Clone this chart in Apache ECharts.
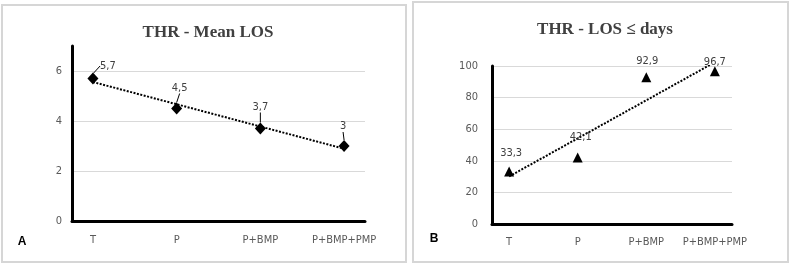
<!DOCTYPE html>
<html>
<head>
<meta charset="utf-8">
<script src="https://cdn.jsdelivr.net/npm/echarts@6/dist/echarts.min.js"></script>
<style>
html,body{margin:0;padding:0;background:#fff;}
#c{width:790px;height:266px;}
</style>
</head>
<body>
<div id="c"></div>
<script>
// ---- data ----
const categories = ['T', 'P', 'P+BMP', 'P+BMP+PMP'];
const meanLOS = [5.7, 4.5, 3.7, 3];
const losDays = [33.3, 42.1, 92.9, 96.7];
// dotted linear trend lines (values read at T and at P+BMP+PMP)
const trendMeanLOS = [5.56, 2.89];
const trendLOSdays = [30.1, 102.4];
const yTicksA = [0, 2, 4, 6];
const yTicksB = [0, 20, 40, 60, 80, 100];

// label offsets (style only)
const offA = [[15, 4], [3, -4], [0, -5], [-1, -3]];
const offB = [[2, -3], [3, -5], [1, -1], [0, 6]];

const chart = echarts.init(document.getElementById('c'), null, {renderer: 'canvas'});
const axisFont = '"Liberation Sans Narrow", "DejaVu Sans Condensed", "Liberation Sans", sans-serif';
const fmt = v => String(v).replace('.', ',');

function xAxisCfg(gridIndex, margin) {
  return {
    type: 'value', gridIndex, min: -0.25, max: 3.25,
    axisLine: {show: true, onZero: false, lineStyle: {color: '#000', width: 3}},
    axisTick: {show: false},
    splitLine: {show: false},
    axisLabel: {
      customValues: [0, 1, 2, 3],
      formatter: v => categories[Math.round(v)],
      color: '#595959', fontSize: 11, fontFamily: axisFont, margin: margin
    }
  };
}

const option = {
  animation: false,
  backgroundColor: '#fff',
  title: [
    {text: 'THR - Mean LOS', left: 203, top: 19, textAlign: 'center',
     textStyle: {fontFamily: '"Liberation Serif", "DejaVu Serif", serif', fontWeight: 'bold', fontSize: 17, color: '#404040'}},
    {text: 'THR - LOS \u2264 days', left: 600, top: 16, textAlign: 'center',
     textStyle: {fontFamily: '"Liberation Serif", "DejaVu Serif", serif', fontWeight: 'bold', fontSize: 17, color: '#404040'}}
  ],
  graphic: [
    {type: 'rect', shape: {x: 2, y: 5, width: 404, height: 257}, style: {fill: 'none', stroke: '#d6d6d6', lineWidth: 2}, silent: true},
    {type: 'rect', shape: {x: 413, y: 2, width: 375, height: 260}, style: {fill: 'none', stroke: '#d6d6d6', lineWidth: 2}, silent: true},
    {type: 'text', x: 22, y: 242, style: {text: 'A', fontFamily: '"Liberation Sans", sans-serif', fontWeight: 'bold', fontSize: 12, fill: '#000', align: 'center', verticalAlign: 'middle'}},
    {type: 'text', x: 434, y: 239, style: {text: 'B', fontFamily: '"Liberation Sans", sans-serif', fontWeight: 'bold', fontSize: 12, fill: '#000', align: 'center', verticalAlign: 'middle'}}
  ],
  grid: [
    {left: 72, top: 46, right: 425, bottom: 45},
    {left: 492, top: 66, right: 58, bottom: 42}
  ],
  xAxis: [xAxisCfg(0, 14), xAxisCfg(1, 13)],
  yAxis: [
    {type: 'value', gridIndex: 0, min: 0, max: 7, interval: 2,
     axisLine: {show: true, onZero: false, lineStyle: {color: '#000', width: 3}},
     axisTick: {show: false},
     splitLine: {show: true, showMinLine: false, showMaxLine: false, lineStyle: {color: '#d9d9d9', width: 1}},
     axisLabel: {showMaxLabel: false, color: '#595959', fontSize: 11, fontFamily: axisFont, margin: 10,
                 formatter: v => (yTicksA.indexOf(v) >= 0 ? String(v) : '')}},
    {type: 'value', gridIndex: 1, min: 0, max: 100, interval: 20,
     axisLine: {show: true, onZero: false, lineStyle: {color: '#000', width: 3}},
     axisTick: {show: false},
     splitLine: {show: true, showMinLine: false, lineStyle: {color: '#d9d9d9', width: 1}},
     axisLabel: {color: '#595959', fontSize: 11, fontFamily: axisFont, margin: 14,
                 formatter: v => (yTicksB.indexOf(v) >= 0 ? String(v) : '')}}
  ],
  series: [
    {type: 'line', xAxisIndex: 0, yAxisIndex: 0, z: 2,
     data: [[0, trendMeanLOS[0]], [3, trendMeanLOS[1]]],
     symbol: 'none', lineStyle: {color: '#000', width: 2, type: [2, 1.5]}, silent: true},
    {type: 'line', xAxisIndex: 0, yAxisIndex: 0, z: 3,
     data: meanLOS.map((v, i) => [i, v]),
     symbol: 'diamond', symbolSize: [11, 12],
     itemStyle: {color: '#000'}, lineStyle: {width: 0, opacity: 0},
     label: {show: true, position: 'top', distance: 5, color: '#404040', fontSize: 11, fontFamily: axisFont,
             formatter: p => fmt(p.value[1])},
     labelLine: {show: true, lineStyle: {color: '#000', width: 1}},
     labelLayout: p => ({dx: offA[p.dataIndex][0], dy: offA[p.dataIndex][1]})},
    {type: 'line', xAxisIndex: 1, yAxisIndex: 1, z: 2, clip: true,
     data: [[0, trendLOSdays[0]], [3, trendLOSdays[1]]],
     symbol: 'none', lineStyle: {color: '#000', width: 2, type: [2, 1.5]}, silent: true},
    {type: 'line', xAxisIndex: 1, yAxisIndex: 1, z: 3,
     data: losDays.map((v, i) => [i, v]),
     symbol: 'triangle', symbolSize: [10, 10],
     itemStyle: {color: '#000'}, lineStyle: {width: 0, opacity: 0},
     label: {show: true, position: 'top', distance: 5, color: '#404040', fontSize: 11, fontFamily: axisFont,
             formatter: p => fmt(p.value[1])},
     labelLayout: p => ({dx: offB[p.dataIndex][0], dy: offB[p.dataIndex][1]})}
  ]
};
chart.setOption(option);
</script>
</body>
</html>
